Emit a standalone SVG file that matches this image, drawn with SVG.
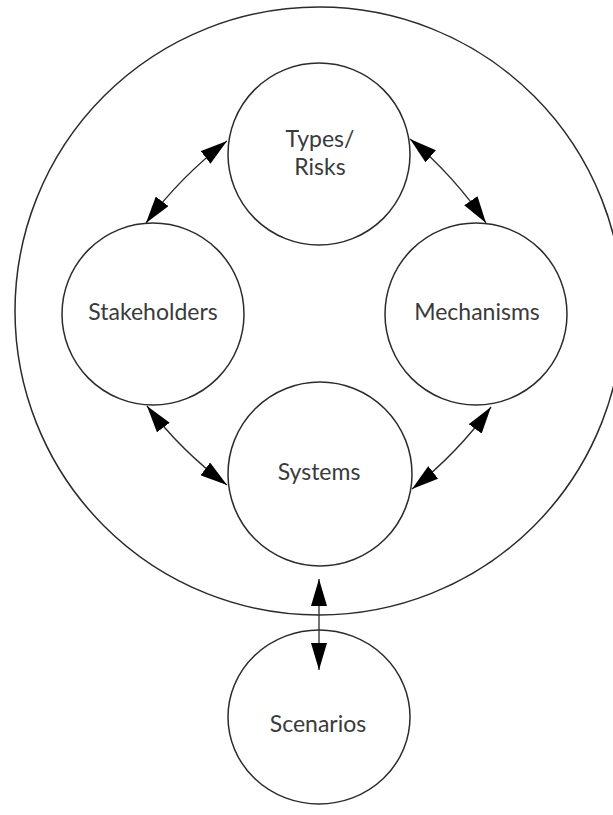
<svg xmlns="http://www.w3.org/2000/svg" width="613" height="815" viewBox="0 0 613 815">
<style>
.c{fill:none;stroke:#2b2b2b;stroke-width:1.5}
.t{font-family:Lato,"Open Sans","Liberation Sans",sans-serif;font-size:23px;fill:#3a3a3a;text-anchor:middle}
.a{fill:none;stroke:#2b2b2b;stroke-width:1.3;marker-start:url(#ah);marker-end:url(#ah)}
</style>
<defs>
<marker id="ah" markerUnits="userSpaceOnUse" markerWidth="27" markerHeight="16" refX="27" refY="8" orient="auto-start-reverse" viewBox="0 0 27 16">
<path d="M0,0 L27,8 L0,16 z" fill="#000"/>
</marker>
</defs>
<rect width="613" height="815" fill="#fff"/>
<g id="outer"><circle class="c" cx="319" cy="311" r="304"/></g>
<g id="types"><circle class="c" cx="319" cy="154" r="91"/><text class="t" x="320" y="147">Types/</text><text class="t" x="320" y="175">Risks</text></g>
<g id="stakeholders"><circle class="c" cx="153" cy="314" r="91"/><text class="t" x="153" y="320">Stakeholders</text></g>
<g id="mechanisms"><circle class="c" cx="476" cy="314" r="91"/><text class="t" x="477" y="320">Mechanisms</text></g>
<g id="systems"><circle class="c" cx="320" cy="474" r="92"/><text class="t" x="319" y="480">Systems</text></g>
<g id="scenarios"><ellipse class="c" cx="319" cy="717" rx="91" ry="87"/><text class="t" x="318" y="732">Scenarios</text></g>
<g id="connectors">
<path class="a" d="M227,141 Q180.8,176.4 146,223"/>
<path class="a" d="M410,139 Q453.9,175.6 486,223"/>
<path class="a" d="M147,406 Q181.4,451.2 227,485"/>
<path class="a" d="M491,407 Q457.3,453.5 412,489"/>
<path class="a" d="M319,579 L319,670"/>
</g>
</svg>
